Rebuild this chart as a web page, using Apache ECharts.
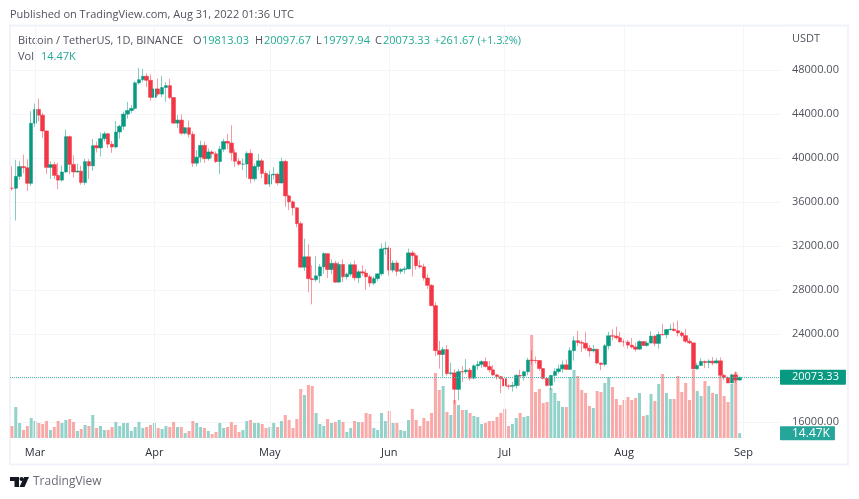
<!DOCTYPE html>
<html>
<head>
<meta charset="utf-8">
<title>BTCUSDT 1D</title>
<script src="https://cdn.jsdelivr.net/npm/echarts@6/dist/echarts.min.js"></script>
<style>
html,body{margin:0;padding:0;background:#fff;}
#main{width:859px;height:499px;}
</style>
</head>
<body>
<div id="main"></div>
<script>
// daily candles, Feb 23 - Aug 31 2022
var opens = [
37260,37250,38328,39219,39116,37699,43160,
44421,43892,42454,39148,39397,38420,37988,38730,41941,39422,38729,38807,37777,39671,39286,41118,40917,41757,42201,41262,41002,42364,42882,43991,44313,44511,46827,47122,47433,47067,
45510,46283,45811,46407,46580,45497,43170,43444,42252,42753,42158,39530,40074,41147,39942,40551,40378,39678,40801,41500,41358,40480,39709,39441,39450,40426,38112,39235,39742,38596,
37630,38468,38525,37728,39690,36552,36013,35472,34038,30074,31017,29030,28936,29283,30101,31305,29862,30425,28715,30319,29201,29445,30293,29109,29654,29542,29201,28629,29031,29468,31734,
31801,29805,30452,29700,29864,29920,31373,31125,30205,30110,29091,28424,26574,22487,22136,22583,20401,20468,18970,20574,20573,20723,19987,21110,21237,21491,21038,20742,20281,20123,
19942,19279,19252,19315,20236,20175,20564,21624,21594,21591,20862,19963,19328,20234,20588,20830,21195,20779,22485,23389,23231,23164,22714,22465,22609,21361,21239,22930,23843,23804,23656,
23293,23268,22987,22818,22622,23312,22954,23175,23810,23149,23954,23934,24403,24441,24305,24094,23854,23342,23191,20834,21140,21515,21399,21529,21368,21559,20241,20037,19550,20285,19813.03];
var closes = [
37250,38328,39219,39116,37699,43160,
44421,43892,42454,39148,39397,38420,37988,38730,41941,39422,38729,38807,37777,39671,39286,41118,40917,41757,42201,41262,41002,42364,42882,43991,44313,44511,46827,47122,47433,47067,45510,
46283,45811,46407,46580,45497,43170,43444,42252,42753,42158,39530,40074,41147,39942,40551,40378,39678,40801,41500,41358,40480,39709,39441,39450,40426,38112,39235,39742,38596,37630,
38468,38525,37728,39690,36552,36013,35472,34038,30074,31017,29030,28936,29283,30101,31305,29862,30425,28715,30319,29201,29445,30293,29109,29654,29542,29201,28629,29031,29468,31734,31801,
29805,30452,29700,29864,29920,31373,31125,30205,30110,29091,28424,26574,22487,22136,22583,20401,20468,18970,20574,20573,20723,19987,21110,21237,21491,21038,20742,20281,20123,19942,
19279,19252,19315,20236,20175,20564,21624,21594,21591,20862,19963,19328,20234,20588,20830,21195,20779,22485,23389,23231,23164,22714,22465,22609,21361,21239,22930,23843,23804,23656,23293,
23268,22987,22818,22622,23312,22954,23175,23810,23149,23954,23934,24403,24441,24305,24094,23854,23342,23191,20834,21140,21515,21399,21529,21368,21559,20241,20037,19550,20285,19813,20073.33];
var highs = [
39249,39843,39720,40300,39886,44256,
44949,45400,44102,42500,39700,39640,39547,39300,42594,42039,40236,39486,39300,39914,39887,41718,41478,42325,42400,42296,41544,43361,43025,44220,45094,44820,46999,48189,48096,47700,47600,
46720,47213,47444,46890,47200,45507,43900,43970,42800,43410,42414,40699,41561,41500,40870,40709,40595,41100,41760,42199,42976,40795,39980,39940,40616,40797,39474,40372,39925,38795,
38838,39167,38651,40023,39845,36675,36146,35510,34245,32658,32162,30243,31083,30343,31460,31308,30788,30666,30545,30777,29588,30487,30670,29845,30223,29883,29396,29250,29500,32222,32399,
31982,30689,30689,29999,30150,31765,31589,31325,30700,30385,29440,28544,26895,23362,22800,22995,21365,20792,20815,21090,21723,20900,21233,21558,21614,21868,21540,21192,20364,20179,
20918,19439,19650,20354,20750,20675,21838,22527,21955,21599,20868,20048,20271,20885,21200,21588,21689,22780,23799,24276,23440,24200,23000,23014,22663,21400,23100,24199,24442,24668,24194,
23509,23463,23647,23223,23450,23350,23400,24245,23922,24226,24918,24456,24889,25047,25214,24247,24446,23600,23203,21382,21800,21576,21699,21900,21819,21870,20340,20141,20400,20580,20097.67];
var lows = [
37036,34322,38014,38600,37000,37450,
42809,43334,41832,38550,38090,38088,37155,37850,38650,38539,38223,38660,37578,37555,38098,38828,40500,40135,41499,40911,40467,40875,41751,42560,43579,44072,44421,46663,46950,46445,45200,
44200,45620,45530,45118,45352,43121,42727,42107,42125,41868,39200,39254,39588,39551,39766,39991,39546,38536,40571,40820,39751,39177,39285,38929,38200,37702,37881,38881,38175,37578,
37386,38052,37517,37670,35571,35258,34785,33713,30033,29730,27785,26700,28751,28630,29480,29087,29450,28654,28670,28730,28947,29228,28852,28630,29294,28019,28282,28450,28810,29299,31200,
29301,29594,29282,29450,29485,29878,29218,29843,29944,28850,28099,26560,22000,20846,20111,20232,20246,17622,17960,19637,20348,19770,19890,20740,20906,20950,20510,20205,19846,18626,
18975,18977,18781,19055,19304,19760,20252,21189,21322,20655,19875,19240,18910,19616,20383,20473,20755,20770,21576,22906,22341,22520,21934,22300,21250,20706,21040,22582,23414,23506,23227,
22853,22664,22681,22400,22587,22909,22841,23154,22883,22664,23852,23570,24300,24225,23773,23671,23180,23100,20770,20761,21105,20890,20890,21152,21310,20112,19800,19527,19550,19540,19797.94];
// volume, in K
var volumes = [
36,93,45,24,36,60,51,45,42,51,
24,33,51,45,54,57,48,21,27,39,
36,69,30,36,24,24,33,48,36,45,
45,21,33,48,30,33,39,45,30,27,
36,33,48,33,33,15,21,51,45,33,
30,21,12,18,45,30,33,48,39,18,
24,51,54,45,45,42,30,33,45,33,
51,69,54,30,57,147,129,159,156,75,
42,36,57,45,48,54,48,18,30,51,
48,48,75,72,30,24,75,51,81,45,
45,24,21,54,87,54,36,60,51,75,
195,144,156,78,69,114,99,84,84,75,
66,63,42,45,51,51,63,75,87,36,
42,60,75,63,66,309,138,147,105,108,
150,135,111,93,93,183,204,186,144,135,
96,90,141,138,165,183,153,117,99,114,
123,114,120,135,66,69,132,111,162,192,
135,117,117,186,138,165,114,204,141,126,
171,156,135,132,186,126,108,162,198,14.47];
var monthStarts = {'2022-03-01':'Mar','2022-04-01':'Apr','2022-05-01':'May','2022-06-01':'Jun','2022-07-01':'Jul','2022-08-01':'Aug','2022-09-01':'Sep'};
var hiddenPriceLabels = [20000, 52000];
var lastPrice = 20073.33;
var lastVolume = 14.47;

var UP = '#089981', DOWN = '#f23645', TEAL = '#22ab94', TEXT = '#50535e', FONT = '"Open Sans"';

// 200 day slots so the right side stays empty like the original
var dates = [];
for (var d = 0; d < 200; d++) {
    dates.push(new Date(Date.UTC(2022, 1, 23 + d)).toISOString().slice(0, 10));
}

var wicks = [], bodies = [], volumeItems = [], monthLines = [];
for (var i = 0; i < closes.length; i++) {
    wicks.push([opens[i], closes[i], lows[i], highs[i]]);
    bodies.push([opens[i], closes[i], Math.min(opens[i], closes[i]), Math.max(opens[i], closes[i])]);
    volumeItems.push({
        value: volumes[i],
        itemStyle: {color: closes[i] >= opens[i] ? '#92d2cb' : '#faa9a9'}
    });
}
for (var key in monthStarts) {
    monthLines.push({xAxis: key});
}

function txt(x, y, text, color, size) {
    return {
        type: 'text', x: x, y: y, silent: true,
        style: {text: text, fill: color || TEXT, font: (size || 11) + 'px ' + FONT, textVerticalAlign: 'middle'}
    };
}

var option = {
    animation: false,
    backgroundColor: '#fff',
    textStyle: {fontFamily: FONT},
    grid: [
        {left: 10, width: 770, top: 26, height: 396},
        {left: 10, width: 770, top: 26, height: 412}
    ],
    xAxis: [
        {type: 'category', gridIndex: 0, data: dates, show: false},
        {
            type: 'category', gridIndex: 1, data: dates,
            axisLine: {show: false}, axisTick: {show: false}, splitLine: {show: false},
            axisLabel: {
                margin: 9, color: '#2a2e39', fontSize: 11, fontFamily: FONT, fontWeight: 500,
                interval: function(index, value) { return !!monthStarts[value]; },
                formatter: function(value) { return monthStarts[value] || ''; }
            }
        }
    ],
    yAxis: [
        {
            type: 'value', gridIndex: 0, position: 'right', min: 16000, max: 52000, interval: 4000,
            axisLine: {show: false}, axisTick: {show: false},
            splitLine: {lineStyle: {color: '#f4f5f8', width: 1}},
            axisLabel: {
                margin: 12, color: TEXT, fontSize: 11, fontFamily: FONT,
                formatter: function(value) {
                    return hiddenPriceLabels.indexOf(value) >= 0 ? '' : value.toFixed(2);
                }
            }
        },
        {type: 'value', gridIndex: 1, position: 'right', min: 0, max: 1236, show: false, splitLine: {show: false}}
    ],
    series: [
        {
            name: 'MonthLines', type: 'line', xAxisIndex: 1, yAxisIndex: 1, data: [], z: 0,
            markLine: {
                silent: true, symbol: 'none', animation: false, label: {show: false},
                lineStyle: {color: '#f4f5f8', width: 1, type: 'solid'},
                data: monthLines
            }
        },
        {
            name: 'Vol', type: 'bar', xAxisIndex: 1, yAxisIndex: 1, data: volumeItems, barWidth: 3, z: 1,
            markLine: {
                silent: true, symbol: 'none', animation: false,
                lineStyle: {color: 'rgba(0,0,0,0)', width: 0},
                label: {
                    show: true, position: 'end', distance: 0, formatter: '14.47K', color: '#fff', fontSize: 12,
                    fontFamily: FONT, backgroundColor: '#26a69a', padding: [1, 5, 1, 12], borderRadius: 1
                },
                data: [{yAxis: lastVolume}]
            }
        },
        {
            name: 'Wicks', type: 'candlestick', xAxisIndex: 0, yAxisIndex: 0, data: wicks, barWidth: 1, z: 2,
            itemStyle: {
                color: 'rgba(8,153,129,0.5)', color0: 'rgba(242,54,69,0.5)',
                borderColor: 'rgba(8,153,129,0.5)', borderColor0: 'rgba(242,54,69,0.5)', borderWidth: 1
            }
        },
        {
            name: 'Bodies', type: 'candlestick', xAxisIndex: 0, yAxisIndex: 0, data: bodies, barWidth: 4, z: 3,
            itemStyle: {color: UP, color0: DOWN, borderColor: UP, borderColor0: DOWN, borderWidth: 0.5},
            markLine: {
                silent: true, symbol: 'none', animation: false,
                lineStyle: {color: '#4fb8ac', width: 1, type: 'dotted'},
                label: {
                    show: true, position: 'end', distance: 0, formatter: '20073.33', color: '#fff', fontSize: 11,
                    fontFamily: FONT, backgroundColor: UP, padding: [2, 7, 2, 12], borderRadius: 1
                },
                data: [{yAxis: lastPrice}]
            }
        }
    ],
    graphic: [
        {
            type: 'rect', silent: true, z: -1,
            shape: {x: 10, y: 25.5, width: 838, height: 439},
            style: {fill: 'none', stroke: '#f0f3fa', lineWidth: 2}
        },
        txt(10, 15, 'Published on TradingView.com, Aug 31, 2022 01:36 UTC'),
        txt(18, 41, 'Bitcoin / TetherUS, 1D, BINANCE'),
        txt(193, 41, 'O'), txt(202, 41, '19813.03', TEAL),
        txt(255, 41, 'H'), txt(264, 41, '20097.67', TEAL),
        txt(316, 41, 'L'), txt(323, 41, '19797.94', TEAL),
        txt(375, 41, 'C'), txt(383, 41, '20073.33', TEAL),
        txt(434, 41, '+261.67 (+1.32%)', TEAL),
        txt(18, 57, 'Vol'), txt(41, 57, '14.47K', '#26a69a'),
        txt(792, 39, 'USDT'),
        // logo
        {type: 'polygon', silent: true, shape: {points: [[10,477],[19,477],[19,487],[14.5,487],[14.5,481],[10,481]]}, style: {fill: '#131722'}},
        {type: 'circle', silent: true, shape: {cx: 21.5, cy: 479, r: 2}, style: {fill: '#131722'}},
        {type: 'polygon', silent: true, shape: {points: [[24,477],[29,477],[24.5,487],[19.5,487]]}, style: {fill: '#131722'}},
        txt(33, 482, 'TradingView', '#6a6d78', 12)
    ]
};

var chart = echarts.init(document.getElementById('main'), null, {renderer: 'canvas'});
chart.setOption(option);
</script>
</body>
</html>
